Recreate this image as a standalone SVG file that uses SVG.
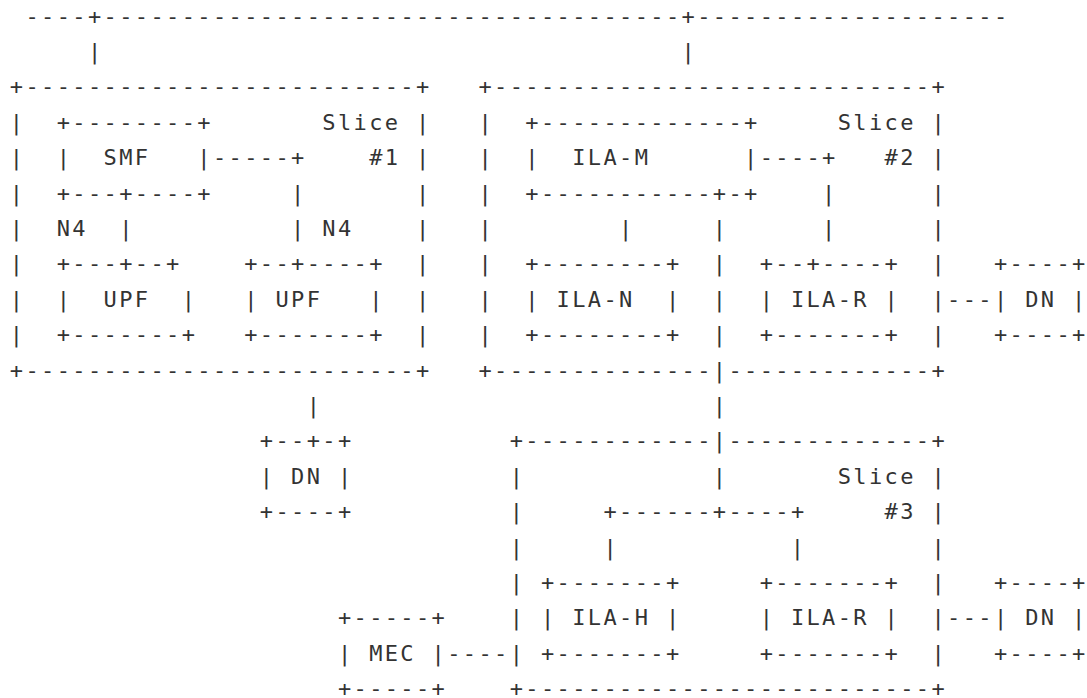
<svg xmlns="http://www.w3.org/2000/svg" width="1087" height="698" viewBox="0 0 1087 698" xml:space="preserve">
<style>
text { font-family: "DejaVu Sans Mono", "Liberation Mono", monospace; font-size: 22px; letter-spacing: 2.375px; fill: #333333; white-space: pre; }
</style>
<rect width="1087" height="698" fill="#ffffff"/>
<g transform="translate(-1.8,-2)">
<g id="connectors">
<text x="27.30" y="25.5">----+-------------------------------------+--------------------</text>
<text x="89.78" y="60.9">|</text>
<text x="683.34" y="60.9">|</text>
<text x="214.74" y="167.1">-----+</text>
<text x="292.84" y="202.5">|</text>
<text x="58.54" y="237.9">N4</text>
<text x="121.02" y="237.9">|</text>
<text x="292.84" y="237.9">|</text>
<text x="324.08" y="237.9">N4</text>
<text x="761.44" y="167.1">----+</text>
<text x="823.92" y="202.5">|</text>
<text x="823.92" y="237.9">|</text>
<text x="620.86" y="237.9">|</text>
<text x="714.58" y="237.9">|</text>
<text x="714.58" y="273.3">|</text>
<text x="714.58" y="308.7">|</text>
<text x="714.58" y="344.1">|</text>
<text x="948.88" y="308.7">---</text>
<text x="308.46" y="414.9">|</text>
<text x="714.58" y="414.9">|</text>
<text x="714.58" y="485.7">|</text>
<text x="605.24" y="521.1">+------+----+</text>
<text x="605.24" y="556.5">|</text>
<text x="792.68" y="556.5">|</text>
<text x="948.88" y="627.3">---</text>
<text x="449.04" y="662.7">----</text>
</g>
<g id="slice1">
<text x="11.68" y="96.3">+-------------------------+</text>
<text x="11.68" y="131.7">|</text><text x="417.80" y="131.7">|</text>
<text x="11.68" y="167.1">|</text><text x="417.80" y="167.1">|</text>
<text x="11.68" y="202.5">|</text><text x="417.80" y="202.5">|</text>
<text x="11.68" y="237.9">|</text><text x="417.80" y="237.9">|</text>
<text x="11.68" y="273.3">|</text><text x="417.80" y="273.3">|</text>
<text x="11.68" y="308.7">|</text><text x="417.80" y="308.7">|</text>
<text x="11.68" y="344.1">|</text><text x="417.80" y="344.1">|</text>
<text x="11.68" y="379.5">+-------------------------+</text>
<text x="324.08" y="131.7">Slice</text>
<text x="370.94" y="167.1">#1</text>
</g>
<g id="smf">
<text x="58.54" y="131.7">+--------+</text>
<text x="58.54" y="167.1">|  SMF   |</text>
<text x="58.54" y="202.5">+---+----+</text>
</g>
<g id="upf1">
<text x="58.54" y="273.3">+---+--+</text>
<text x="58.54" y="308.7">|  UPF  |</text>
<text x="58.54" y="344.1">+-------+</text>
</g>
<g id="upf2">
<text x="245.98" y="273.3">+--+----+</text>
<text x="245.98" y="308.7">| UPF   |</text>
<text x="245.98" y="344.1">+-------+</text>
</g>
<g id="slice2">
<text x="480.28" y="96.3">+----------------------------+</text>
<text x="480.28" y="131.7">|</text><text x="933.26" y="131.7">|</text>
<text x="480.28" y="167.1">|</text><text x="933.26" y="167.1">|</text>
<text x="480.28" y="202.5">|</text><text x="933.26" y="202.5">|</text>
<text x="480.28" y="237.9">|</text><text x="933.26" y="237.9">|</text>
<text x="480.28" y="273.3">|</text><text x="933.26" y="273.3">|</text>
<text x="480.28" y="308.7">|</text><text x="933.26" y="308.7">|</text>
<text x="480.28" y="344.1">|</text><text x="933.26" y="344.1">|</text>
<text x="480.28" y="379.5">+--------------|-------------+</text>
<text x="839.54" y="131.7">Slice</text>
<text x="886.40" y="167.1">#2</text>
</g>
<g id="ila-m">
<text x="527.14" y="131.7">+-------------+</text>
<text x="527.14" y="167.1">|  ILA-M      |</text>
<text x="527.14" y="202.5">+-----------+-+</text>
</g>
<g id="ila-n">
<text x="527.14" y="273.3">+--------+</text>
<text x="527.14" y="308.7">| ILA-N  |</text>
<text x="527.14" y="344.1">+--------+</text>
</g>
<g id="ila-r-2">
<text x="761.44" y="273.3">+--+----+</text>
<text x="761.44" y="308.7">| ILA-R |</text>
<text x="761.44" y="344.1">+-------+</text>
</g>
<g id="dn-2">
<text x="995.74" y="273.3">+----+</text>
<text x="995.74" y="308.7">| DN |</text>
<text x="995.74" y="344.1">+----+</text>
</g>
<g id="dn-1">
<text x="261.60" y="450.3">+--+-+</text>
<text x="261.60" y="485.7">| DN |</text>
<text x="261.60" y="521.1">+----+</text>
</g>
<g id="slice3">
<text x="511.52" y="450.3">+------------|-------------+</text>
<text x="511.52" y="485.7">|</text><text x="933.26" y="485.7">|</text>
<text x="511.52" y="521.1">|</text><text x="933.26" y="521.1">|</text>
<text x="511.52" y="556.5">|</text><text x="933.26" y="556.5">|</text>
<text x="511.52" y="591.9">|</text><text x="933.26" y="591.9">|</text>
<text x="511.52" y="627.3">|</text><text x="933.26" y="627.3">|</text>
<text x="511.52" y="662.7">|</text><text x="933.26" y="662.7">|</text>
<text x="511.52" y="698.1">+--------------------------+</text>
<text x="839.54" y="485.7">Slice</text>
<text x="886.40" y="521.1">#3</text>
</g>
<g id="ila-h">
<text x="542.76" y="591.9">+-------+</text>
<text x="542.76" y="627.3">| ILA-H |</text>
<text x="542.76" y="662.7">+-------+</text>
</g>
<g id="ila-r-3">
<text x="761.44" y="591.9">+-------+</text>
<text x="761.44" y="627.3">| ILA-R |</text>
<text x="761.44" y="662.7">+-------+</text>
</g>
<g id="dn-3">
<text x="995.74" y="591.9">+----+</text>
<text x="995.74" y="627.3">| DN |</text>
<text x="995.74" y="662.7">+----+</text>
</g>
<g id="mec">
<text x="339.70" y="627.3">+-----+</text>
<text x="339.70" y="662.7">| MEC |</text>
<text x="339.70" y="698.1">+-----+</text>
</g>
</g>
</svg>
